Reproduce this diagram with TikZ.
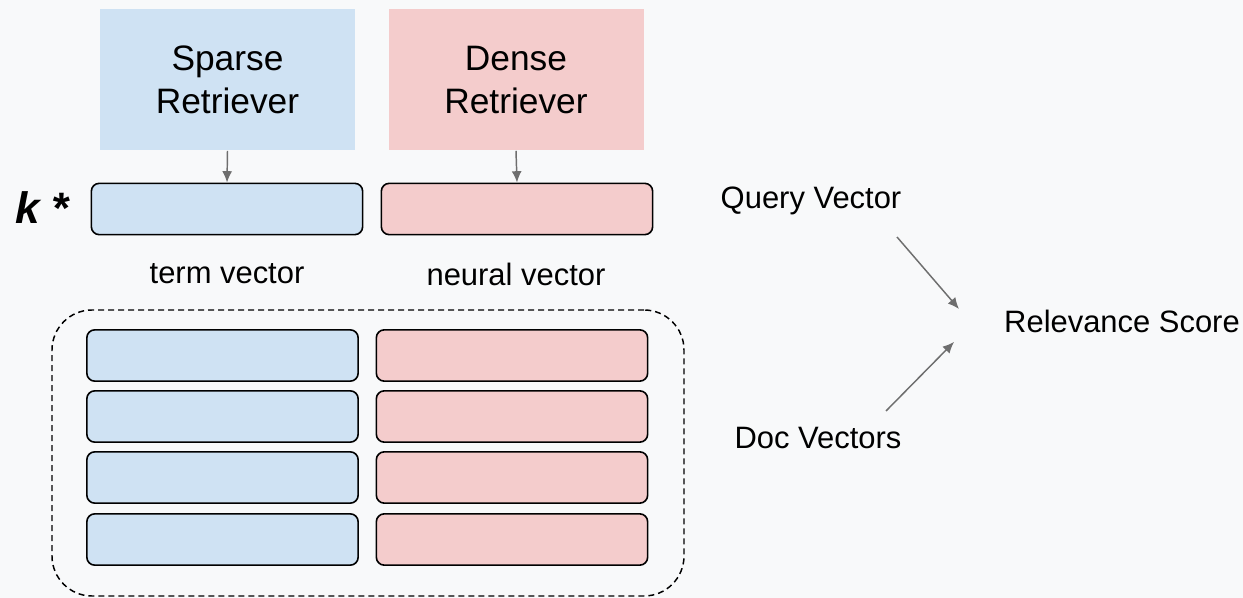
\documentclass[tikz,border=0pt]{standalone}
\usepackage{fontspec}
\setmainfont{Liberation Sans}
\usetikzlibrary{arrows.meta}
\definecolor{bgcol}{RGB}{248,249,250}
\definecolor{sparsecol}{HTML}{CFE2F3}
\definecolor{densecol}{HTML}{F4CCCC}
\definecolor{arrcol}{HTML}{6E6E6E}
\tikzset{
  retriever/.style={rectangle, minimum width=191.25pt, minimum height=105.75pt,
    align=center, inner sep=0pt, font=\fontsize{26.5pt}{32.5pt}\selectfont},
  vecbox/.style={rectangle, rounded corners=6pt, draw=black, line width=1.2pt,
    minimum width=203.5pt, minimum height=38.5pt, inner sep=0pt},
  lbl/.style={inner sep=0pt, font=\fontsize{23.2pt}{28pt}\selectfont},
  arr/.style={draw=arrcol, line width=1.1pt, -{Latex[length=8.5pt,width=7.5pt]}},
  docgroup/.style={rectangle, rounded corners=30pt, draw=black, dashed,
    dash pattern=on 4.5pt off 3pt, line width=1.1pt,
    minimum width=474pt, minimum height=214.5pt, inner sep=0pt}
}
\begin{document}
\begin{tikzpicture}[x=0.75pt,y=-0.75pt]
  \fill[bgcol] (0,0) rectangle (1243,598);
  \useasboundingbox (0,0) rectangle (1243,598);

  % retrievers
  \node[retriever, fill=sparsecol] (sparse) at (227.5,80) {Sparse\\Retriever};
  \node[retriever, fill=densecol] (dense) at (516,80) {Dense\\Retriever};

  % query vectors
  \node[vecbox, fill=sparsecol] (qs) at (227,209) {};
  \node[vecbox, fill=densecol] (qd) at (517,209) {};
  \draw[arr] (sparse.south) -- (qs.north);
  \draw[arr] (dense.south) -- (qd.north);

  \node[inner sep=0pt, font=\fontsize{33pt}{38pt}\selectfont\bfseries\itshape] (kstar) at (42,208) {k *};

  \node[lbl] (termlbl) at (227,274) {term vector};
  \node[lbl] (neurallbl) at (516,274) {neural vector};

  % document vectors
  \node[docgroup] (docs) at (368,453) {};
  \foreach \i/\y in {1/355.5, 2/416.5, 3/477.5, 4/539.5} {
    \node[vecbox, fill=sparsecol] (ds\i) at (222.5,\y) {};
    \node[vecbox, fill=densecol] (dd\i) at (512,\y) {};
  }

  % scoring
  \node[lbl] (query) at (811,201) {Query Vector};
  \node[lbl] (doc) at (818,438) {Doc Vectors};
  \node[lbl] (score) at (1122,321) {Relevance Score};
  \coordinate (qstart) at (897,237);
  \coordinate (qend) at (959,309);
  \coordinate (dstart) at (886,411);
  \coordinate (dend) at (954,342);
  \draw[arr] (qstart) -- (qend);
  \draw[arr] (dstart) -- (dend);
\end{tikzpicture}
\end{document}
